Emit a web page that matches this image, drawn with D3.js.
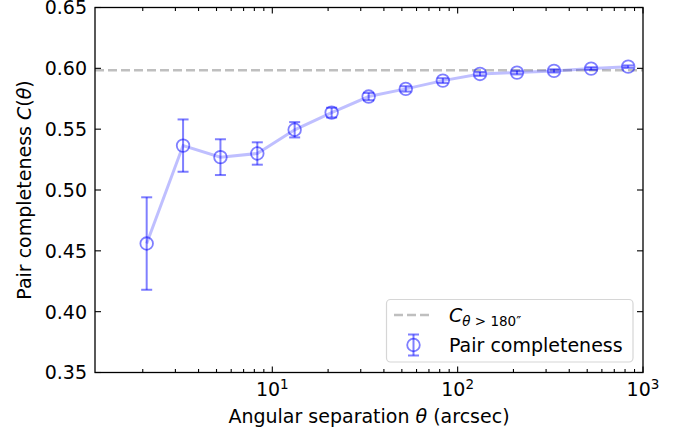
<!DOCTYPE html>
<html>
<head>
<meta charset="utf-8">
<script src="https://cdnjs.cloudflare.com/ajax/libs/d3/7.8.5/d3.min.js"></script>
<style>
	body { margin: 0; background: #fff; }
	svg text { font-family: "DejaVu Sans", sans-serif; fill: #000; }
</style>
</head>
<body>
<div id="chart1"></div>
<script>
// angular separation bin centres (arcsec)
var theta = [2.1, 3.3, 5.25, 8.3, 13.2, 20.9, 33.1, 52.5, 83.2, 132, 209, 331, 525, 832];
// pair completeness C(theta)
var completeness = [0.456, 0.5365, 0.527, 0.530, 0.5495, 0.5636, 0.5768, 0.5831, 0.5899, 0.5954, 0.5965, 0.5979, 0.5998, 0.6014];
// 1-sigma errors
var errors = [0.038, 0.0215, 0.0147, 0.0092, 0.0063, 0.004, 0.003, 0.0022, 0.002, 0.0016, 0.0015, 0.0013, 0.0011, 0.001];
// large-scale plateau
var plateau = 0.5985;

var yTicks = [0.35, 0.40, 0.45, 0.50, 0.55, 0.60, 0.65];
var xTicks = [10, 100, 1000];

(function() {
	var width = 688,
		height = 439;

	var margin = {left: 95, right: 45, top: 7.5, bottom: 66.5};

	var svg = d3.select("#chart1")
		.append("svg")
		.attr("width", width)
		.attr("height", height);

	var x = d3.scaleLog()
		.domain([1.105, 1000])
		.range([margin.left, width - margin.right]);

	var y = d3.scaleLinear()
		.domain([0.35, 0.65])
		.range([height - margin.bottom, margin.top]);

	var data = theta.map(function(t, i) {
		return {x: t, y: completeness[i], e: errors[i]};
	});

	var x0 = x.range()[0], x1 = x.range()[1],
		y0 = y.range()[0], y1 = y.range()[1];

	// minor ticks on the log axis
	var minor = [];
	[1, 10, 100].forEach(function(dec) {
		for (var k = 2; k <= 9; k++) {
			var v = dec * k;
			if (v > x.domain()[0] && v < 1000) minor.push(v);
		}
	});

	var ticks = svg.append("g").attr("stroke", "#000").attr("stroke-width", 1.1);

	// x ticks bottom and top, pointing inward
	[y0, y1].forEach(function(yy) {
		var dir = yy === y0 ? -1 : 1;
		ticks.selectAll(null)
			.data(xTicks)
			.enter().append("line")
			.attr("x1", function(d) { return x(d); })
			.attr("x2", function(d) { return x(d); })
			.attr("y1", yy)
			.attr("y2", yy + dir * 6);
		ticks.selectAll(null)
			.data(minor)
			.enter().append("line")
			.attr("x1", function(d) { return x(d); })
			.attr("x2", function(d) { return x(d); })
			.attr("y1", yy)
			.attr("y2", yy + dir * 3.5);
	});

	// y ticks left and right
	[x0, x1].forEach(function(xx) {
		var dir = xx === x0 ? 1 : -1;
		ticks.selectAll(null)
			.data(yTicks)
			.enter().append("line")
			.attr("x1", xx)
			.attr("x2", xx + dir * 6)
			.attr("y1", function(d) { return y(d); })
			.attr("y2", function(d) { return y(d); });
	});

	// y tick labels
	svg.append("g").selectAll("text")
		.data(yTicks)
		.enter().append("text")
		.attr("x", x0 - 8)
		.attr("y", function(d) { return y(d); })
		.attr("dy", "0.36em")
		.attr("text-anchor", "end")
		.style("font-size", "19px")
		.text(function(d) { return d.toFixed(2); });

	// x tick labels as 10^n
	var xl = svg.append("g").selectAll("text")
		.data(xTicks)
		.enter().append("text")
		.attr("x", function(d) { return x(d); })
		.attr("y", y0 + 23)
		.attr("text-anchor", "middle")
		.style("font-size", "19px");
	xl.append("tspan").text("10");
	xl.append("tspan")
		.attr("dy", "-0.45em")
		.style("font-size", "13.5px")
		.text(function(d) { return Math.round(Math.log10(d)); });

	// plateau line
	svg.append("line")
		.attr("x1", x0)
		.attr("x2", x1)
		.attr("y1", y(plateau))
		.attr("y2", y(plateau))
		.attr("stroke", "#bfbfbf")
		.attr("stroke-width", 2.5)
		.attr("stroke-dasharray", "9,4");

	// connecting line
	var line = d3.line()
		.x(function(d) { return x(d.x); })
		.y(function(d) { return y(d.y); });

	svg.append("path")
		.datum(data)
		.attr("d", line)
		.attr("fill", "none")
		.attr("stroke", "rgba(0,0,255,0.25)")
		.attr("stroke-width", 3);

	var blue = "rgba(0,0,255,0.5)";

	// error bars
	var eb = svg.append("g").attr("stroke", blue).attr("stroke-width", 2);
	eb.selectAll(".bar")
		.data(data)
		.enter().append("line")
		.attr("class", "bar")
		.attr("x1", function(d) { return x(d.x); })
		.attr("x2", function(d) { return x(d.x); })
		.attr("y1", function(d) { return y(d.y - d.e); })
		.attr("y2", function(d) { return y(d.y + d.e); });
	["lo", "hi"].forEach(function(side) {
		eb.selectAll(".cap-" + side)
			.data(data)
			.enter().append("line")
			.attr("class", "cap-" + side)
			.attr("x1", function(d) { return x(d.x) - 5.5; })
			.attr("x2", function(d) { return x(d.x) + 5.5; })
			.attr("y1", function(d) { return y(side === "lo" ? d.y - d.e : d.y + d.e); })
			.attr("y2", function(d) { return y(side === "lo" ? d.y - d.e : d.y + d.e); });
	});

	// open markers
	svg.append("g").selectAll("circle")
		.data(data)
		.enter().append("circle")
		.attr("cx", function(d) { return x(d.x); })
		.attr("cy", function(d) { return y(d.y); })
		.attr("r", 6.3)
		.attr("fill", "none")
		.attr("stroke", blue)
		.attr("stroke-width", 1.8);

	// frame
	svg.append("rect")
		.attr("x", x0)
		.attr("y", y1)
		.attr("width", x1 - x0)
		.attr("height", y0 - y1)
		.attr("fill", "none")
		.attr("stroke", "#000")
		.attr("stroke-width", 1.3);

	// legend
	var lg = svg.append("g");
	lg.append("rect")
		.attr("x", 386.5)
		.attr("y", 299.5)
		.attr("width", 246.5)
		.attr("height", 62.5)
		.attr("rx", 4)
		.attr("fill", "rgba(255,255,255,0.8)")
		.attr("stroke", "#d6d6d6")
		.attr("stroke-width", 1.2);
	lg.append("line")
		.attr("x1", 394).attr("x2", 433)
		.attr("y1", 315).attr("y2", 315)
		.attr("stroke", "#bfbfbf")
		.attr("stroke-width", 2.5)
		.attr("stroke-dasharray", "9,4");
	var lt = lg.append("text")
		.attr("x", 449)
		.attr("y", 322)
		.style("font-size", "19px");
	lt.append("tspan").style("font-style", "italic").text("C");
	lt.append("tspan")
		.attr("dy", "0.3em")
		.style("font-size", "13.5px")
		.html("<tspan font-style='italic'>θ</tspan> &gt; 180″");

	var ex = 413.5, ey = 345;
	lg.append("line").attr("x1", ex).attr("x2", ex).attr("y1", ey - 10.5).attr("y2", ey + 10.5)
		.attr("stroke", blue).attr("stroke-width", 2);
	lg.append("line").attr("x1", ex - 5.5).attr("x2", ex + 5.5).attr("y1", ey - 10.5).attr("y2", ey - 10.5)
		.attr("stroke", blue).attr("stroke-width", 2);
	lg.append("line").attr("x1", ex - 5.5).attr("x2", ex + 5.5).attr("y1", ey + 10.5).attr("y2", ey + 10.5)
		.attr("stroke", blue).attr("stroke-width", 2);
	lg.append("circle").attr("cx", ex).attr("cy", ey).attr("r", 6.3)
		.attr("fill", "none").attr("stroke", blue).attr("stroke-width", 1.8);
	lg.append("text")
		.attr("x", 449)
		.attr("y", 351.7)
		.style("font-size", "19px")
		.text("Pair completeness");

	// axis labels
	var xlab = svg.append("text")
		.attr("x", (x0 + x1) / 2)
		.attr("y", 423)
		.attr("text-anchor", "middle")
		.style("font-size", "19px");
	xlab.append("tspan").text("Angular separation ");
	xlab.append("tspan").style("font-style", "italic").text("θ");
	xlab.append("tspan").text(" (arcsec)");

	var ylab = svg.append("text")
		.attr("transform", "translate(31," + ((y0 + y1) / 2) + ") rotate(-90)")
		.attr("text-anchor", "middle")
		.style("font-size", "19px");
	ylab.append("tspan").text("Pair completeness ");
	ylab.append("tspan").style("font-style", "italic").text("C");
	ylab.append("tspan").text("(");
	ylab.append("tspan").style("font-style", "italic").text("θ");
	ylab.append("tspan").text(")");
})();
</script>
</body>
</html>
